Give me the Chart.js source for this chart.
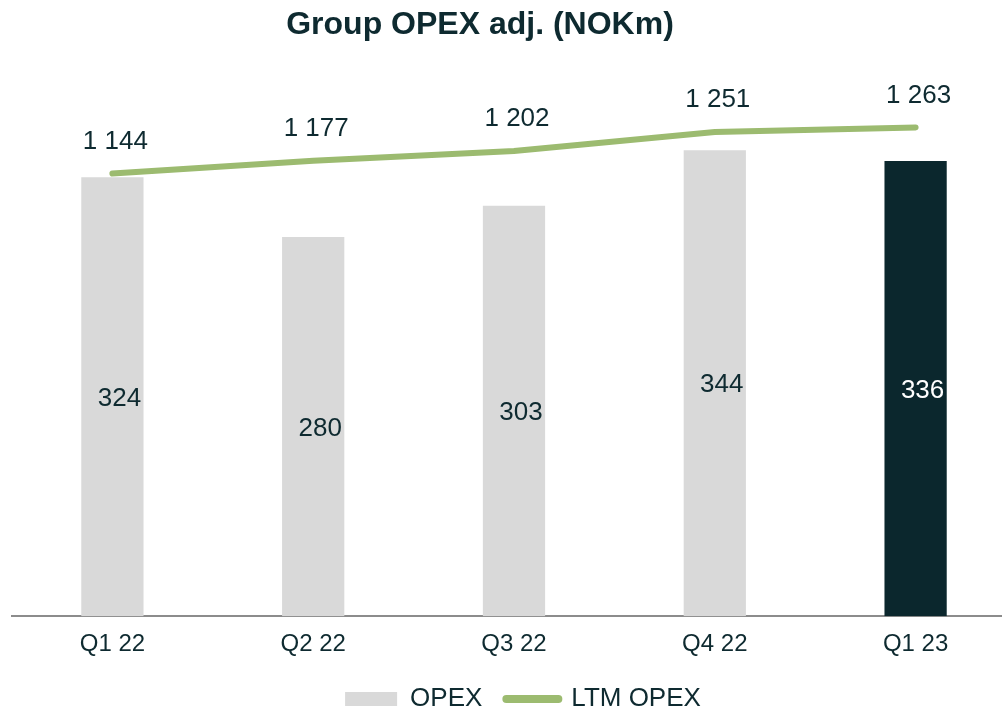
<!DOCTYPE html>
<html>
<head>
<meta charset="utf-8">
<script src="https://cdn.jsdelivr.net/npm/chart.js@4"></script>
<style>
html, body { margin: 0; padding: 0; background: #fff; overflow: hidden; }
canvas { display: block; }
</style>
</head>
<body>
<canvas id="opexChart" width="1018" height="733"></canvas>
<script>
// data
const quarters = ['Q1 22', 'Q2 22', 'Q3 22', 'Q4 22', 'Q1 23'];
const opex = [324, 280, 303, 344, 336];
const ltmOpex = [1144, 1177, 1202, 1251, 1263];

const textDark = '#0e2a30';
const barGrey = '#d9d9d9';
const barDark = '#0b272d';
const green = '#9cbb70';

Chart.defaults.font.family = '"Liberation Sans", Arial, sans-serif';
Chart.defaults.color = textDark;

const fmt = v => String(v).replace(/\B(?=(\d{3})+(?!\d))/g, ' ');

// value labels (no datalabels plugin available offline)
const valueLabels = {
  id: 'valueLabels',
  afterDatasetsDraw(chart) {
    const ctx = chart.ctx;
    ctx.save();
    ctx.font = '26px "Liberation Sans", Arial, sans-serif';
    ctx.textAlign = 'center';
    ctx.textBaseline = 'middle';
    chart.getDatasetMeta(0).data.forEach((el, i) => {
      ctx.fillStyle = i === opex.length - 1 ? '#ffffff' : textDark;
      ctx.fillText(fmt(opex[i]), el.x + 7, (el.y + el.base) / 2 + 2);
    });
    ctx.fillStyle = textDark;
    chart.getDatasetMeta(1).data.forEach((el, i) => {
      ctx.fillText(fmt(ltmOpex[i]), el.x + 3, el.y - 32);
    });
    ctx.restore();
  }
};

// move title / legend to where they sit on the slide
const nudge = {
  id: 'nudge',
  afterLayout(chart) {
    const t = chart.titleBlock;
    t.left -= 34; t.right -= 34;
    const l = chart.legend;
    l.left += 9; l.right += 9;
    l.top -= 11; l.bottom -= 11;
  }
};

const ctx = document.getElementById('opexChart').getContext('2d');
const myChart = new Chart(ctx, {
  type: 'bar',
  data: {
    labels: quarters,
    datasets: [{
      label: 'OPEX',
      data: opex,
      yAxisID: 'y',
      backgroundColor: opex.map((v, i) => i === opex.length - 1 ? barDark : barGrey),
      borderWidth: 0,
      categoryPercentage: 1,
      barPercentage: 0.31,
      order: 1
    }, {
      type: 'line',
      label: 'LTM OPEX',
      data: ltmOpex,
      yAxisID: 'y1',
      borderColor: green,
      backgroundColor: green,
      borderWidth: 6,
      borderCapStyle: 'round',
      pointRadius: 0,
      tension: 0,
      order: 0
    }]
  },
  options: {
    responsive: false,
    animation: false,
    layout: { padding: { left: 12, right: 2, top: 0, bottom: 0 } },
    scales: {
      x: {
        grid: { display: false, drawTicks: false },
        border: { display: true, color: '#8c8c8c', width: 2 },
        ticks: { padding: 14, color: textDark, font: { size: 24 } }
      },
      y: { display: false, min: 0, max: 400 },
      y1: { display: false, min: 0, max: 1400 }
    },
    plugins: {
      title: {
        display: true,
        text: 'Group OPEX adj. (NOKm)',
        color: textDark,
        font: { size: 32, weight: 'bold' },
        padding: { top: 6, bottom: 30 }
      },
      legend: {
        position: 'bottom',
        labels: {
          usePointStyle: true,
          pointStyleWidth: 52,
          boxHeight: 14,
          padding: 24,
          color: textDark,
          font: { size: 26 },
          generateLabels(chart) {
            const items = Chart.defaults.plugins.legend.labels.generateLabels(chart);
            items.sort((a, b) => a.datasetIndex - b.datasetIndex);
            return items.map(it => {
              if (it.datasetIndex === 0) {
                return Object.assign(it, { pointStyle: 'rect', fillStyle: barGrey, strokeStyle: barGrey, lineWidth: 0 });
              }
              return Object.assign(it, { pointStyle: 'line', strokeStyle: green, lineWidth: 8, lineCap: 'round' });
            });
          }
        }
      },
      tooltip: { enabled: false }
    }
  },
  plugins: [valueLabels, nudge]
});
</script>
</body>
</html>
